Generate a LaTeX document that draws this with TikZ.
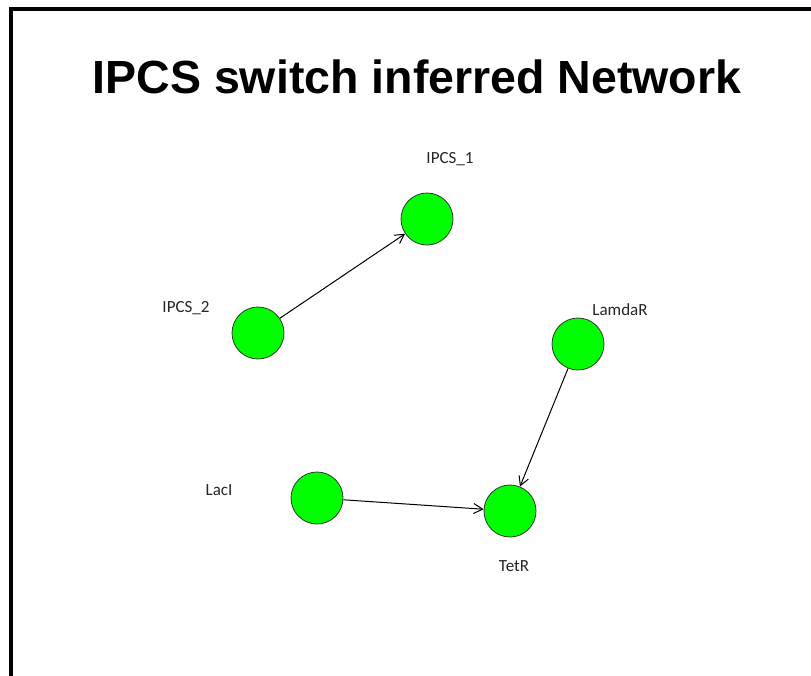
\documentclass[tikz,border=0pt]{standalone}
\usepackage{fontspec}
\setmainfont{Liberation Sans}
\newfontfamily\labelfont{Carlito}
\usetikzlibrary{arrows.meta}
\definecolor{nodegreen}{RGB}{0,255,0}
\tikzset{
  gene/.style={circle, draw=black!80, line width=0.8pt, fill=nodegreen, minimum size=52pt, inner sep=0pt},
  lbl/.style={font=\labelfont\fontsize{17}{19}\selectfont, text=black!85, inner sep=0pt},
  edge/.style={draw=black, line width=1pt, -{Straight Barb[length=9pt,width=10pt,line width=1pt]}}
}
\begin{document}
\begin{tikzpicture}[x=1pt,y=-1pt]
\useasboundingbox (0,0) rectangle (811,675);
\fill[white] (0,0) rectangle (811,675);
\begin{scope}
\clip (0,0) rectangle (811,675);
\draw[line width=4pt] (11,680) -- (11,9) -- (820,9);
\end{scope}
\node[font=\bfseries\fontsize{46.5}{50}\selectfont, anchor=base] (title) at (417,93) {IPCS switch inferred Network};
\node[gene] (ipcs1) at (427,219) {};
\node[gene] (ipcs2) at (258,333) {};
\node[gene] (lamdar) at (578,344) {};
\node[gene] (laci) at (317,498) {};
\node[gene] (tetr) at (510,511) {};
\node[lbl] (l1) at (450,159) {IPCS\_1};
\node[lbl] (l2) at (186,308) {IPCS\_2};
\node[lbl] (l3) at (620,310) {LamdaR};
\node[lbl] (l4) at (219,490) {LacI};
\node[lbl] (l5) at (514,566) {TetR};
\draw[edge] (ipcs2) -- (ipcs1);
\draw[edge] (laci) -- (tetr);
\draw[edge] (lamdar) -- (tetr);
\end{tikzpicture}
\end{document}
